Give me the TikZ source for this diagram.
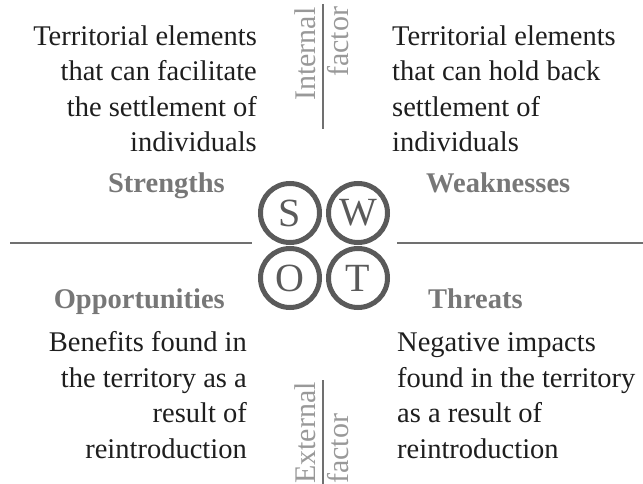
\documentclass[tikz,border=0pt]{standalone}
\usepackage{fontspec}
\setmainfont{Liberation Serif}
\definecolor{ringgray}{HTML}{5A5A5A}
\definecolor{headgray}{HTML}{777777}
\definecolor{rulegray}{HTML}{707070}
\definecolor{factgray}{HTML}{999999}
\definecolor{bodyblack}{HTML}{1E1E1E}
\begin{document}
\begin{tikzpicture}[x=1pt,y=-1pt,
  body/.style={font=\fontsize{28.5}{35.5}\selectfont, inner sep=0pt, text=bodyblack},
  head/.style={font=\fontsize{28.5}{34}\selectfont\bfseries, inner sep=0pt, text=headgray},
  ring/.style={circle, draw=ringgray, line width=5pt, minimum size=59pt, inner sep=0pt,
     font=\fontsize{40}{40}\selectfont, text=ringgray},
  rulestyle/.style={draw=rulegray, line width=2pt},
  fact/.style={font=\fontsize{30}{30}\selectfont, inner sep=0pt, text=factgray, rotate=90, anchor=base west}
]
\useasboundingbox (0,0) rectangle (643,484);
% circles
\node[ring] (S) at (290,213) {S};
\node[ring] (W) at (358,213) {W};
\node[ring] (O) at (290,278) {O};
\node[ring] (T) at (358,278) {T};
% rules
\coordinate (hl1) at (10,243);
\coordinate (hl2) at (252,243);
\coordinate (hr1) at (397,243);
\coordinate (hr2) at (643,243);
\coordinate (vt1) at (323,4);
\coordinate (vt2) at (323,129);
\coordinate (vb1) at (323,380);
\coordinate (vb2) at (323,484);
\draw[rulestyle] (hl1) -- (hl2);
\draw[rulestyle] (hr1) -- (hr2);
\draw[rulestyle] (vt1) -- (vt2);
\draw[rulestyle] (vb1) -- (vb2);
% factor labels
\node[fact] (int) at (315,101) {Internal};
\node[fact] (intf) at (348,77) {factor};
\node[fact] (ext) at (315,484) {External};
\node[fact] (extf) at (348,484) {factor};
% headings
\node[head, anchor=base east] (sh) at (225,193) {Strengths};
\node[head, anchor=base west] (wh) at (426,193) {Weaknesses};
\node[head, anchor=base east] (oh) at (225,308) {Opportunities};
\node[head, anchor=base west] (th) at (428,308) {Threats};
% bodies (base anchor = baseline of last line)
\node[body, align=right, anchor=base east] (sb) at (257,152)
  {Territorial elements\\that can facilitate\\the settlement of\\individuals};
\node[body, align=left, anchor=base west] (wb) at (392,152)
  {Territorial elements\\that can hold back\\settlement of\\individuals};
\node[body, align=right, anchor=base east] (ob) at (247,458)
  {Benefits found in\\the territory as a\\result of\\reintroduction};
\node[body, align=left, anchor=base west] (tb) at (397,458)
  {Negative impacts\\found in the territory\\as a result of\\reintroduction};
\end{tikzpicture}
\end{document}
